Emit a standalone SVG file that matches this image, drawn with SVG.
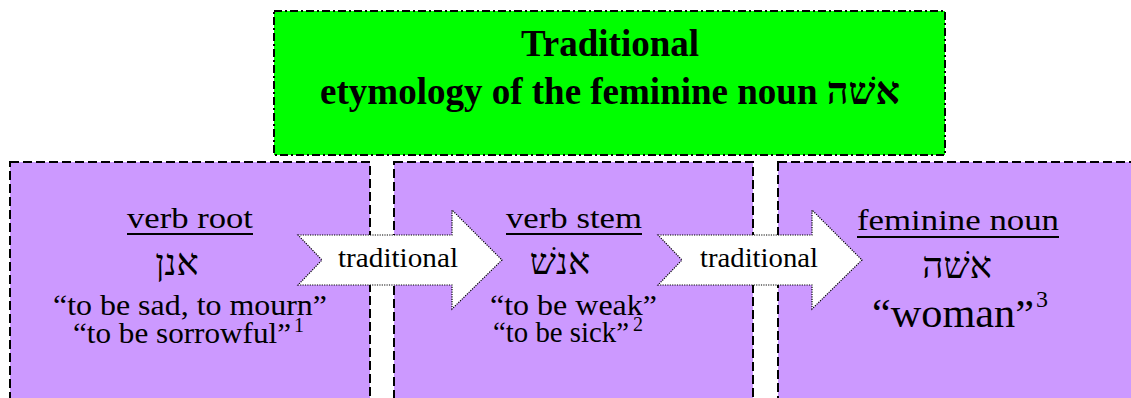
<svg xmlns="http://www.w3.org/2000/svg" width="1131" height="398" viewBox="0 0 1131 398">
<style>
.title{font-family:"Liberation Serif","Times New Roman",serif;font-weight:bold;font-size:37px;fill:#000}
.t{font-family:"Liberation Serif","Times New Roman",serif;fill:#000}
.hebf{font-family:"Liberation Serif","DejaVu Sans",sans-serif}
.head{font-size:30px}
.body{font-size:30px}
.heb{font-size:37px}
.sup{font-size:20px}
.green{fill:#00FF00;stroke:#000;stroke-width:2;stroke-dasharray:8,3,2,3}
.purple{fill:#CC99FF;stroke:#000;stroke-width:2;stroke-dasharray:9,4}
.arrow{fill:#fff;stroke:#000;stroke-width:1.2;stroke-dasharray:1.2,1.2}
.ul{stroke:#000;stroke-width:2}
</style>
<rect width="1131" height="398" fill="#fff"/>
<g id="title">
<rect class="green" x="274" y="11" width="671" height="144"/>
<text class="title" x="610" y="56" text-anchor="middle">Traditional</text>
<text class="title" x="610" y="104" text-anchor="middle">etymology of the feminine noun <tspan class="hebf" style="font-size:38px">אשׁה</tspan></text>
</g>
<g id="verb-root">
<rect class="purple" x="10" y="162" width="360" height="260"/>
<text class="t head" x="190" y="228" text-anchor="middle" textLength="126" lengthAdjust="spacingAndGlyphs">verb root</text>
<line class="ul" x1="127" y1="234" x2="253" y2="234"/>
<text class="t hebf heb" x="177" y="275" text-anchor="middle">אנן</text>
<text class="t body" x="190" y="315" text-anchor="middle" textLength="274" lengthAdjust="spacingAndGlyphs">“to be sad, to mourn”</text>
<text class="t body" x="73" y="343" textLength="218" lengthAdjust="spacingAndGlyphs">“to be sorrowful”</text>
<text class="t sup" x="294" y="332">1</text>
</g>
<g id="verb-stem">
<rect class="purple" x="394" y="162" width="359" height="260"/>
<text class="t head" x="574" y="228" text-anchor="middle" textLength="136" lengthAdjust="spacingAndGlyphs">verb stem</text>
<line class="ul" x1="506" y1="234" x2="642" y2="234"/>
<text class="t hebf heb" x="560" y="274" text-anchor="middle">אנשׁ</text>
<text class="t body" x="573.5" y="315" text-anchor="middle" textLength="167" lengthAdjust="spacingAndGlyphs">“to be weak”</text>
<text class="t body" x="493" y="342" textLength="136" lengthAdjust="spacingAndGlyphs">“to be sick”</text>
<text class="t sup" x="633" y="331">2</text>
</g>
<g id="feminine-noun">
<rect class="purple" x="778" y="162" width="362" height="260"/>
<text class="t head" x="958" y="230" text-anchor="middle" textLength="202" lengthAdjust="spacingAndGlyphs">feminine noun</text>
<line class="ul" x1="857" y1="237" x2="1059" y2="237"/>
<text class="t hebf heb" x="957" y="278" text-anchor="middle">אשׁה</text>
<text class="t" style="font-size:41px" x="872" y="327" textLength="162" lengthAdjust="spacingAndGlyphs">“woman”</text>
<text class="t" style="font-size:24px" x="1036" y="307">3</text>
</g>
<g id="connectors">
<g id="arrow-1">
<polygon class="arrow" points="298,235 452,235 452,210 502,260 452,309 452,285 298,285 322,260"/>
<text class="t" style="font-size:27px" x="398" y="267" text-anchor="middle" textLength="120" lengthAdjust="spacingAndGlyphs">traditional</text>
</g>
<g id="arrow-2">
<polygon class="arrow" points="658,235 812,235 812,210 862,260 812,309 812,285 658,285 682,260"/>
<text class="t" style="font-size:27px" x="759" y="267" text-anchor="middle" textLength="118" lengthAdjust="spacingAndGlyphs">traditional</text>
</g>
</g>
</svg>
